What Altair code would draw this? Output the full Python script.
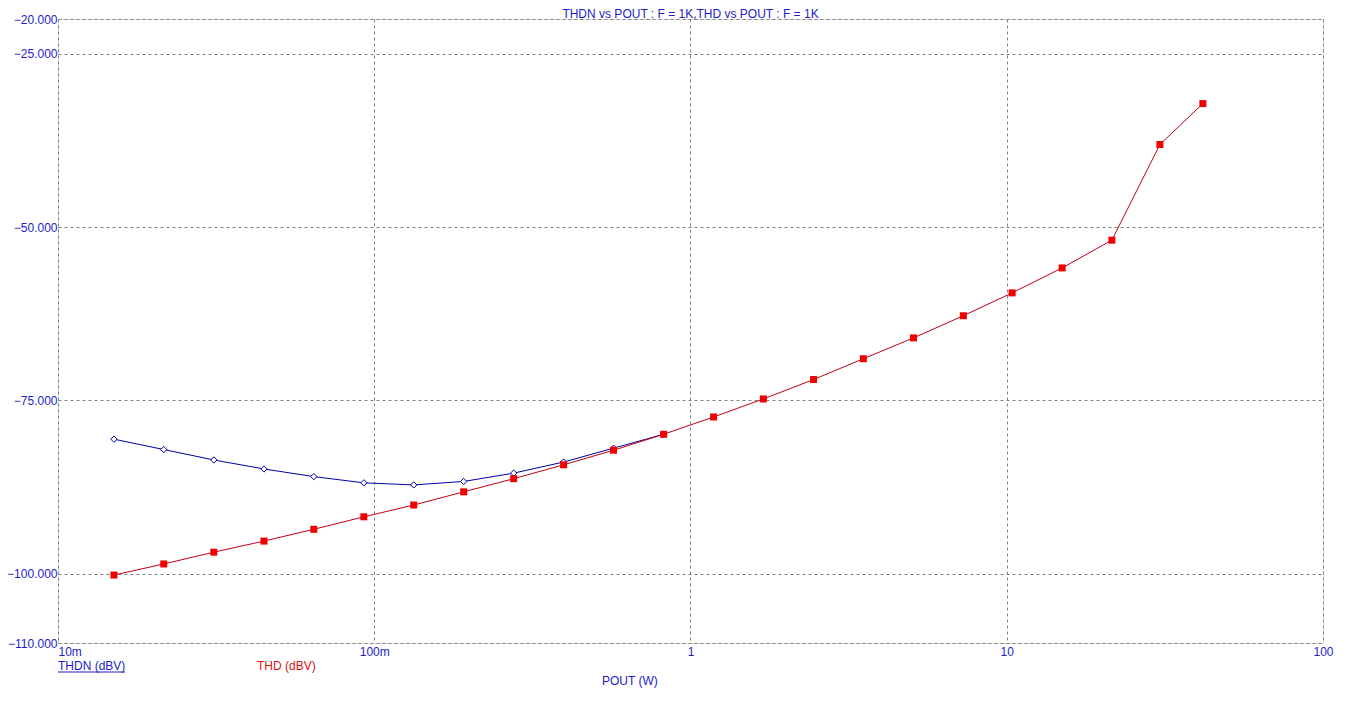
import altair as alt
import pandas as pd

pout = [0.01503, 0.0216, 0.0311, 0.0448, 0.0644, 0.0927, 0.1333, 0.1918, 0.276,
        0.397, 0.571, 0.822, 1.183, 1.70, 2.45, 3.52, 5.07, 7.29, 10.4, 14.97,
        21.5, 30.5, 41.7]
thd = [-100.2, -98.6, -96.9, -95.3, -93.6, -91.8, -90.1, -88.2, -86.3, -84.3,
       -82.2, -79.9, -77.4, -74.8, -72.0, -69.0, -66.0, -62.8, -59.5, -55.9,
       -51.9, -38.1, -32.2]
thdn = [-80.6, -82.1, -83.6, -84.9, -86.0, -86.9, -87.2, -86.7, -85.5, -83.9,
        -81.9, -79.9]

y_ticks = [-20, -25, -50, -75, -100, -110]
x_ticks = [0.01, 0.1, 1, 10, 100]
x_tick_labels = ["10m", "100m", "1", "10", "100"]

title_text = "THDN vs POUT : F = 1K,THD vs POUT : F = 1K"

df_thd = pd.DataFrame({"pout": pout, "val": thd})
df_thdn = pd.DataFrame({"pout": pout[:len(thdn)], "val": thdn})

TXT_BLUE = "#1c1cc8"
LINE_BLUE = "#0000a8"
RED = "#f00000"
LINE_RED = "#c00018"
GRID = "#808080"
FONT = "Liberation Sans"

label_expr = " : ".join(
    f"datum.value < {v * 1.5} ? '{l}'" for v, l in zip(x_ticks[:-1], x_tick_labels[:-1])
) + f" : '{x_tick_labels[-1]}'"

xscale = alt.Scale(type="log", domain=[0.01, 100], nice=False)
yscale = alt.Scale(domain=[-110, -20], nice=False, zero=False)

xaxis = alt.Axis(values=x_ticks, labelExpr=label_expr, title=None, ticks=False,
                 domain=False, grid=True, gridDash=[3, 3], gridColor=GRID,
                 gridOpacity=1, labelColor=TXT_BLUE, labelFont=FONT, labelFontSize=12,
                 labelPadding=3,
                 labelAlign={"condition": {"test": "datum.value < 0.02", "value": "left"},
                             "value": "center"})
yaxis = alt.Axis(values=y_ticks, format=".3f", title=None, ticks=False, domain=False,
                 grid=True, gridDash=[3, 3], gridColor=GRID, gridOpacity=1,
                 labelColor=TXT_BLUE, labelFont=FONT, labelFontSize=12, labelPadding=1)

base_x = alt.X("pout:Q", scale=xscale, axis=xaxis)
base_y = alt.Y("val:Q", scale=yscale, axis=yaxis)

thdn_line = alt.Chart(df_thdn).mark_line(color=LINE_BLUE, strokeWidth=1).encode(x=base_x, y=base_y)
thdn_pts = alt.Chart(df_thdn).mark_point(shape="diamond", size=40, filled=True, fill="white",
                                         stroke=LINE_BLUE, strokeWidth=1, opacity=1).encode(
    x=alt.X("pout:Q", scale=xscale), y=alt.Y("val:Q", scale=yscale))
thd_line = alt.Chart(df_thd).mark_line(color=LINE_RED, strokeWidth=1).encode(
    x=alt.X("pout:Q", scale=xscale), y=alt.Y("val:Q", scale=yscale))
thd_pts = alt.Chart(df_thd).mark_square(size=49, color=RED, opacity=1).encode(
    x=alt.X("pout:Q", scale=xscale), y=alt.Y("val:Q", scale=yscale))

legend_df = pd.DataFrame({"t": ["THDN (dBV)", "THD (dBV)", "POUT (W)"],
                          "px": [0, 199, 544], "py": [647, 647, 662],
                          "c": [TXT_BLUE, "#e01010", TXT_BLUE]})
legend_txt = alt.Chart(legend_df).mark_text(align="left", baseline="middle", font=FONT,
                                            fontSize=12).encode(
    x=alt.X("px:Q", scale=None), y=alt.Y("py:Q", scale=None),
    text="t:N", color=alt.Color("c:N", scale=None))
title_mark = alt.Chart(pd.DataFrame({"t": [title_text]})).mark_text(
    align="center", baseline="middle", font=FONT, fontSize=12, color=TXT_BLUE).encode(
    x=alt.value(632.5), y=alt.value(-5), text="t:N")
underline = alt.Chart(pd.DataFrame({"a": [0]})).mark_rule(color=TXT_BLUE, strokeWidth=1).encode(
    x=alt.value(0), x2=alt.value(67), y=alt.value(653))

chart = alt.layer(thdn_line, thdn_pts, thd_line, thd_pts, legend_txt, title_mark,
                  underline).properties(
    width=1265, height=624,
    autosize=alt.AutoSizeParams(type="none"),
    padding={"left": 50, "top": 11, "right": 20, "bottom": 50},
).configure_view(stroke=GRID, strokeWidth=1).configure(background="white")

chart.save("out.html", embed_options={"renderer": "svg", "actions": False})
